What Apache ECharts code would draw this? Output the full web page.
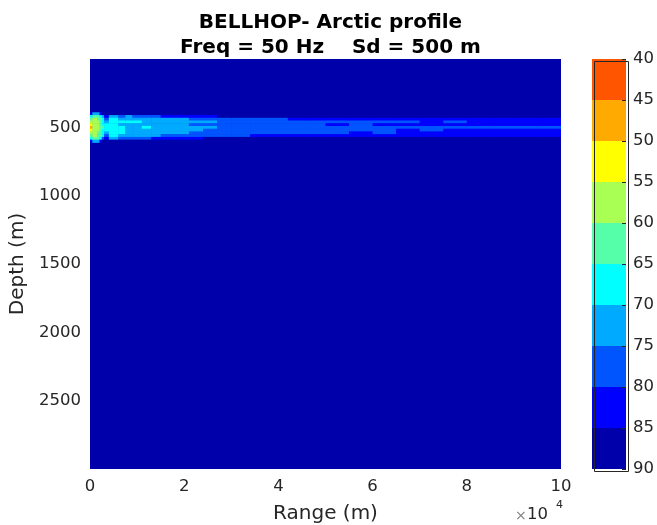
<!DOCTYPE html>
<html>
<head>
<meta charset="utf-8">
<script src="https://cdn.jsdelivr.net/npm/echarts@6/dist/echarts.min.js"></script>
<style>html,body{margin:0;padding:0;background:#fff;}#c{width:657px;height:525px;}</style>
</head>
<body>
<div id="c"></div>
<script>
// Range bin edges (m)
const rangeEdges = [0, 500, 1000, 1500, 2000, 2500, 3000, 4000, 5000, 6000, 7500, 9000, 11000, 13000, 15000, 18000, 21000, 24000, 27000, 30000, 34000, 38000, 42000, 46000, 50000, 55000, 60000, 65000, 70000, 75000, 80000, 85000, 90000, 95000, 100000];
// Depth bin edges (m)
const depthEdges = [390, 410, 430, 450, 470, 490, 510, 530, 550, 570, 590, 610];
// Transmission loss (dB) per range bin, listed from shallow to deep depth bin
const tlByRange = [
  [80, 66, 60, 57, 52, 48, 52, 57, 60, 66, 80],
  [72, 63, 59, 57, 56, 55, 56, 57, 59, 63, 72],
  [70, 62, 59, 57, 57, 57, 57, 58, 59, 62, 70],
  [74, 63, 61, 59, 59, 59, 59, 60, 61, 63, 74],
  [84, 66, 63, 62, 62, 62, 62, 62, 63, 67, 84],
  [88, 74, 67, 65, 65, 64, 65, 66, 68, 76, 88],
  [88, 84, 76, 70, 67, 65, 67, 70, 76, 84, 88],
  [88, 72, 67, 66, 67, 66, 66, 67, 68, 72, 88],
  [88, 72, 68, 66, 68, 67, 66, 67, 69, 73, 88],
  [88, 78, 70, 68, 70, 69, 69, 69, 71, 76, 88],
  [88, 74, 70, 69, 71, 70, 70, 70, 72, 75, 88],
  [88, 76, 71, 69, 72, 70, 71, 70, 72, 76, 88],
  [88, 78, 72, 70, 71, 69, 71, 72, 73, 78, 88],
  [88, 79, 72, 71, 73, 70, 71, 72, 74, 80, 88],
  [88, 80, 73, 71, 72, 71, 72, 73, 75, 82, 88],
  [88, 82, 74, 72, 74, 72, 73, 74, 76, 83, 88],
  [88, 83, 75, 73, 75, 73, 74, 75, 77, 84, 88],
  [88, 84, 76, 74, 76, 74, 75, 76, 78, 85, 88],
  [88, 86, 79, 76, 78, 75, 77, 76, 79, 86, 88],
  [88, 87, 78, 77, 77, 76, 76, 78, 79, 87, 88],
  [88, 87, 79, 76, 78, 77, 77, 77, 80, 88, 88],
  [88, 88, 79, 77, 79, 76, 78, 78, 80, 88, 88],
  [88, 88, 80, 77, 78, 77, 77, 79, 81, 88, 88],
  [88, 88, 80, 78, 79, 76, 78, 78, 81, 88, 88],
  [88, 88, 80, 78, 80, 77, 79, 79, 81, 88, 88],
  [88, 88, 81, 79, 79, 77, 78, 80, 82, 88, 88],
  [88, 88, 81, 78, 80, 78, 79, 79, 82, 88, 88],
  [88, 88, 81, 79, 81, 77, 80, 80, 82, 88, 88],
  [88, 88, 82, 80, 80, 78, 79, 81, 83, 88, 88],
  [88, 88, 82, 79, 81, 78, 80, 80, 83, 88, 88],
  [88, 88, 82, 80, 82, 79, 81, 81, 83, 88, 88],
  [88, 88, 82, 81, 81, 78, 80, 82, 83, 88, 88],
  [88, 88, 83, 80, 82, 79, 81, 81, 84, 88, 88],
  [88, 88, 83, 81, 82, 78, 81, 82, 84, 88, 88]
];
// Colour bar levels (dB) and colours
const levels = [40, 45, 50, 55, 60, 65, 70, 75, 80, 85, 90];
const levelColors = ['#FF5500', '#FFAA00', '#FFFF00', '#AAFF55', '#55FFAA', '#00FFFF', '#00AAFF', '#0055FF', '#0000FF', '#0000AA'];
const xTickLabels = ['0', '2', '4', '6', '8', '10'];
const yTicks = [500, 1000, 1500, 2000, 2500];

const fieldData = [];
for (let i = 0; i < tlByRange.length; i++) {
  for (let j = 0; j < tlByRange[i].length; j++) {
    fieldData.push([rangeEdges[i], rangeEdges[i + 1], depthEdges[j], depthEdges[j + 1], tlByRange[i][j]]);
  }
}
const barData = [];
for (let k = 0; k < levelColors.length; k++) {
  barData.push([0, 1, levels[k], levels[k + 1], (levels[k] + levels[k + 1]) / 2]);
}
const pieces = levelColors.map((c, k) => ({ gte: levels[k], lt: levels[k + 1], color: c }));
pieces[pieces.length - 1] = { gte: 85, color: '#0000AA' };

function renderRect(params, api) {
  const p0 = api.coord([api.value(0), api.value(2)]);
  const p1 = api.coord([api.value(1), api.value(3)]);
  const x = Math.min(p0[0], p1[0]), y = Math.min(p0[1], p1[1]);
  return {
    type: 'rect',
    shape: { x: x, y: y, width: Math.abs(p1[0] - p0[0]) + 0.5, height: Math.abs(p1[1] - p0[1]) + 0.5 },
    style: { fill: api.visual('color') }
  };
}

const txt = '#262626';
const font = 'DejaVu Sans';
const chart = echarts.init(document.getElementById('c'), null, { renderer: 'canvas' });
chart.setOption({
  animation: false,
  title: {
    text: 'BELLHOP- Arctic profile\nFreq = 50 Hz    Sd = 500 m',
    left: 325.5, top: 5, textAlign: 'center',
    textStyle: { fontFamily: font, fontSize: 20, fontWeight: 'bold', color: '#000', lineHeight: 25 }
  },
  visualMap: {
    type: 'piecewise', show: false, dimension: 4, seriesIndex: [0, 1], pieces: pieces
  },
  grid: [
    { left: 90, right: 96, top: 59, bottom: 56, show: true, backgroundColor: '#0000AA', borderWidth: 0, outerBoundsMode: 'none', containLabel: false },
    { left: 592, width: 34, top: 59, bottom: 56, show: false, outerBoundsMode: 'none', containLabel: false }
  ],
  xAxis: [
    {
      gridIndex: 0, type: 'value', min: 0, max: 100000, interval: 20000,
      name: 'Range (m)', nameLocation: 'middle', nameGap: 35,
      nameTextStyle: { fontFamily: font, fontSize: 20, color: txt },
      axisLine: { show: false, onZero: false }, axisTick: { show: false }, splitLine: { show: false },
      axisLabel: { fontFamily: font, fontSize: 16.5, color: txt, margin: 9, formatter: v => xTickLabels[Math.round(v / 20000)] }
    },
    { gridIndex: 1, type: 'value', min: 0, max: 1, show: false, axisLine: { onZero: false } }
  ],
  yAxis: [
    {
      gridIndex: 0, type: 'value', min: 0, max: 3000, interval: 500, inverse: true,
      name: 'Depth (m)', nameLocation: 'middle', nameGap: 59,
      nameTextStyle: { fontFamily: font, fontSize: 20, color: txt },
      axisLine: { show: false, onZero: false }, axisTick: { show: false }, splitLine: { show: false },
      axisLabel: { fontFamily: font, fontSize: 16.5, color: txt, margin: 9, formatter: v => yTicks.indexOf(v) >= 0 ? String(v) : '' }
    },
    {
      gridIndex: 1, type: 'value', min: 40, max: 90, interval: 5, inverse: true, position: 'right', z: 20,
      axisLine: { show: false, onZero: false }, splitLine: { show: false },
      axisTick: { show: true, inside: true, length: 4, lineStyle: { color: txt } },
      axisLabel: { fontFamily: font, fontSize: 16.5, color: txt, margin: 7 }
    }
  ],
  graphic: [{
    type: 'rect', left: 592, top: 59, z: 100, silent: true,
    shape: { width: 34, height: 410 },
    style: { fill: 'none', stroke: '#262626', lineWidth: 1 }
  }, {
    type: 'text', left: 515, top: 509, z: 100,
    style: { text: '×', fontFamily: font, fontSize: 14, fill: '#808080' }
  }, {
    type: 'text', left: 527, top: 506, z: 100,
    style: { text: '10', fontFamily: font, fontSize: 16.5, fill: txt }
  }, {
    type: 'text', left: 556, top: 500, z: 100,
    style: { text: '4', fontFamily: font, fontSize: 11, fill: txt }
  }],
  series: [
    {
      type: 'custom', xAxisIndex: 0, yAxisIndex: 0, clip: true,
      encode: { x: [0, 1], y: [2, 3] }, renderItem: renderRect, data: fieldData
    },
    {
      type: 'custom', xAxisIndex: 1, yAxisIndex: 1, clip: true, z: 3,
      encode: { x: [0, 1], y: [2, 3] }, renderItem: renderRect, data: barData
    }
  ]
});
</script>
</body>
</html>
